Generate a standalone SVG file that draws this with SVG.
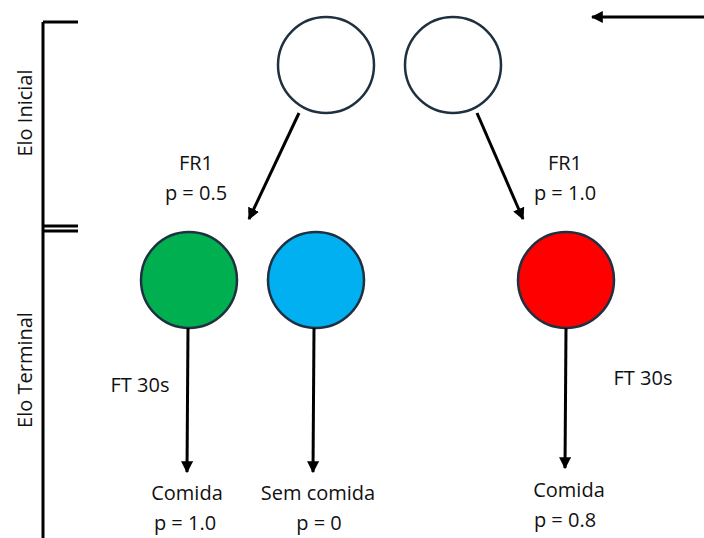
<svg xmlns="http://www.w3.org/2000/svg" width="704" height="538" viewBox="0 0 704 538">
<style>
.t{font-family:"Open Sans","Liberation Sans",sans-serif;font-size:20px;fill:#111;text-anchor:middle}
.c{stroke:#1f3040;stroke-width:2.5}
.e{fill:#fff}
.l{stroke:#000;stroke-width:3;fill:none}
</style>
<defs>
<marker id="ah" viewBox="0 0 10 10" refX="9" refY="5" markerWidth="4" markerHeight="4" orient="auto" markerUnits="strokeWidth">
<path d="M0,0 L10,5 L0,10 Z" fill="#000"/>
</marker>
</defs>
<rect width="704" height="538" fill="#fff"/>
<g id="bracket">
<path class="l" d="M43,22 V538 M43,22 H78 M43,226 H78 M43,231 H78"/>
<text class="t" transform="translate(32,113) rotate(-90)">Elo Inicial</text>
<text class="t" transform="translate(32,370) rotate(-90)">Elo Terminal</text>
</g>
<g id="n1"><circle class="c e" cx="326" cy="65" r="48"/></g>
<g id="n2"><circle class="c e" cx="453" cy="65" r="48"/></g>
<g id="green"><circle class="c" cx="189" cy="280" r="48" fill="#00b050"/></g>
<g id="blue"><circle class="c" cx="316" cy="280" r="48" fill="#00b0f0"/></g>
<g id="red"><circle class="c" cx="566" cy="280" r="48" fill="#ff0000"/></g>
<g id="connectors">
<line class="l" x1="704" y1="17" x2="592" y2="17" marker-end="url(#ah)"/>
<line class="l" x1="299" y1="113" x2="249" y2="219" marker-end="url(#ah)"/>
<line class="l" x1="477" y1="113" x2="523" y2="219" marker-end="url(#ah)"/>
<line class="l" x1="188" y1="328" x2="187" y2="472" marker-end="url(#ah)"/>
<line class="l" x1="314" y1="328" x2="313" y2="472" marker-end="url(#ah)"/>
<line class="l" x1="566" y1="328" x2="565" y2="468" marker-end="url(#ah)"/>
</g>
<g id="labels">
<text class="t" x="196" y="170">FR1</text>
<text class="t" x="196" y="200">p = 0.5</text>
<text class="t" x="565" y="170">FR1</text>
<text class="t" x="565" y="200">p = 1.0</text>
<text class="t" x="140" y="392">FT 30s</text>
<text class="t" x="643" y="385">FT 30s</text>
<text class="t" x="187" y="500">Comida</text>
<text class="t" x="185" y="530">p = 1.0</text>
<text class="t" x="318" y="500">Sem comida</text>
<text class="t" x="319" y="530">p = 0</text>
<text class="t" x="569" y="497">Comida</text>
<text class="t" x="565" y="527">p = 0.8</text>
</g>
</svg>
